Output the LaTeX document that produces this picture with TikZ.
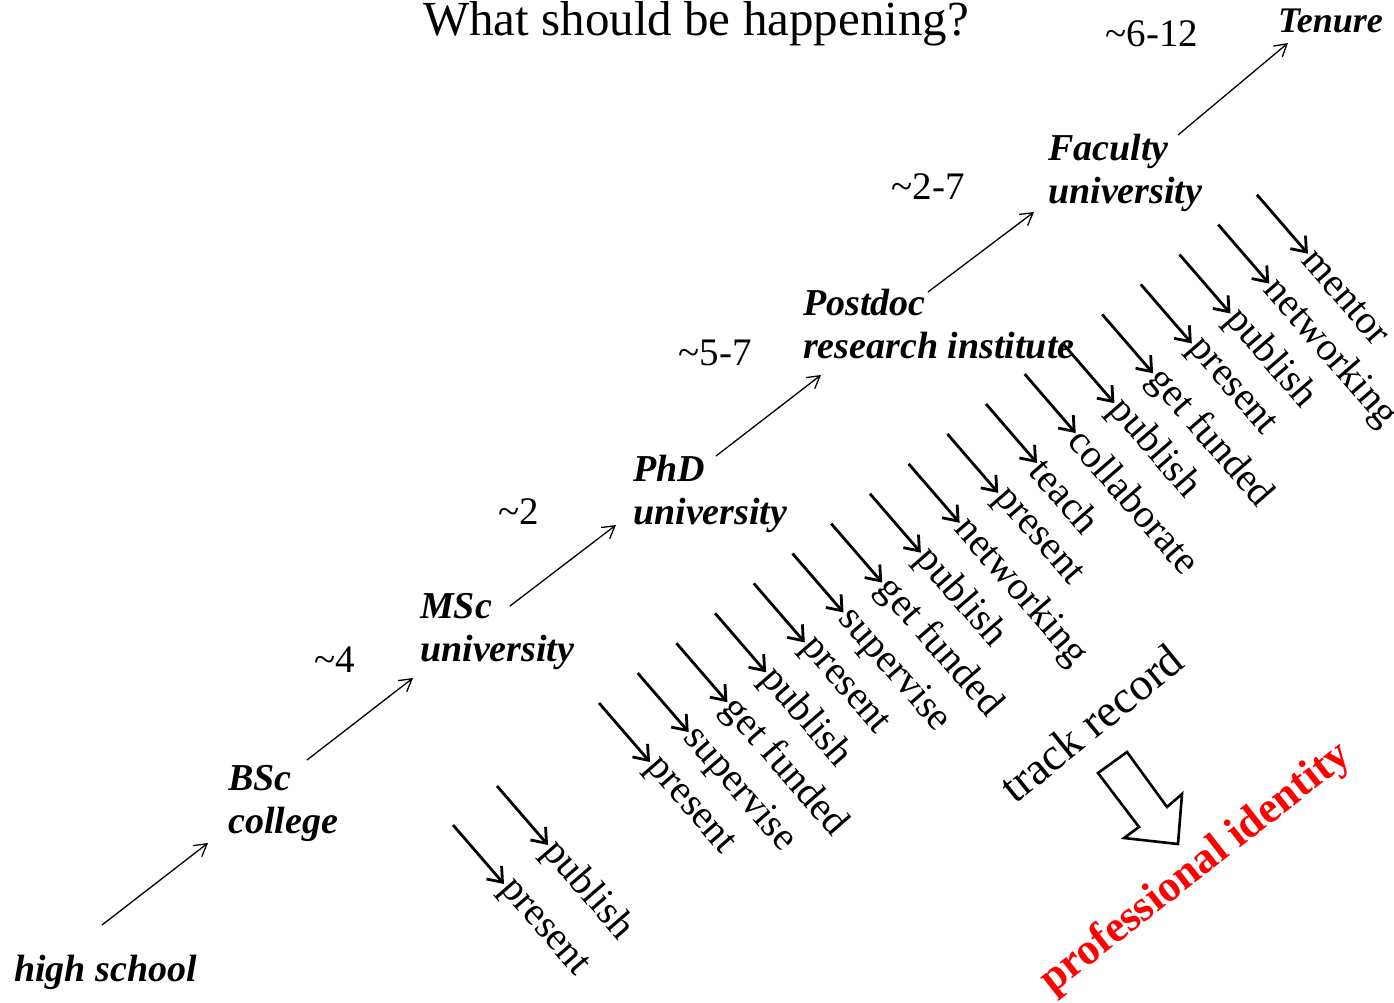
\documentclass[tikz,border=0pt]{standalone}
\usepackage{fontspec}
\setmainfont{Liberation Serif}
\usetikzlibrary{arrows.meta,calc}

\tikzset{
  stage/.style={anchor=north west, inner sep=0pt, align=left,
    font=\fontsize{38}{43}\selectfont\bfseries\itshape},
  years/.style={anchor=base, inner sep=0pt, font=\fontsize{39}{40}\selectfont},
  act/.style={anchor=west, rotate=-49, inner sep=1pt, font=\fontsize{40}{44}\selectfont},
  uparrow/.style={line width=1.3pt, -{Straight Barb[length=12pt,width=14pt]}},
  actarrow/.style={line width=2.8pt, -{Straight Barb[length=13pt,width=20pt]}},
}

\begin{document}
\begin{tikzpicture}[x=1pt,y=-1pt]
  \useasboundingbox (0,0) rectangle (1394,1003);

  % title
  \node[anchor=base, inner sep=0pt, font=\fontsize{49}{52}\selectfont] (title) at (696,36) {What should be happening?};

  % career stages
  \node[stage] (hs) at (14,955) {high school};
  \node[stage] (bsc) at (228,765) {BSc\\college};
  \node[stage] (msc) at (420,593) {MSc\\university};
  \node[stage] (phd) at (633,455) {PhD\\university};
  \node[stage] (postdoc) at (803,289) {Postdoc\\research institute};
  \node[stage] (faculty) at (1048,134) {Faculty\\university};
  \node[stage, font=\fontsize{36}{40}\selectfont\bfseries\itshape] (tenure) at (1278,9) {Tenure};

  % years per stage
  \node[years] (y1) at (335,672) {\textasciitilde4};
  \node[years] (y2) at (519,524) {\textasciitilde2};
  \node[years] (y3) at (715,365) {\textasciitilde5-7};
  \node[years] (y4) at (928,200) {\textasciitilde2-7};
  \node[years] (y5) at (1152,47) {\textasciitilde6-12};

  % steps up
  \foreach \sx/\sy/\ex/\ey [count=\k] in {102/925/208/843, 307/760/413/678,
      510/606/616/525, 716/456/821/375, 928/292/1034/212, 1178/135/1288/43} {
    \coordinate (up\k a) at (\sx,\sy);
    \coordinate (up\k b) at (\ex,\ey);
    \draw[uparrow] (up\k a) -- (up\k b);
  }

  % activities during MSc
  \coordinate (m0) at (453,825);
  \coordinate (m1) at (497,786);
  \node[act] (mt0) at ($(m0)+(51,59)$) {present};
  \node[act] (mt1) at ($(m1)+(51,59)$) {publish};
  \draw[actarrow] (m0) -- (mt0.west);
  \draw[actarrow] (m1) -- (mt1.west);

  % activities PhD -> faculty
  \foreach \lbl [count=\i from 0] in {present, supervise, get funded, publish,
      present, supervise, get funded, publish, networking, present, teach,
      collaborate, publish, get funded, present, publish, networking, mentor} {
    \coordinate (s\i) at ({599+38.7*\i},{703-29.9*\i});
    \node[act] (t\i) at ($(s\i)+(51,59)$) {\lbl};
    \draw[actarrow] (s\i) -- (t\i.west);
  }

  % outcome
  \node[anchor=base west, rotate=39, inner sep=0pt, font=\fontsize{46}{48}\selectfont] (track) at (1015,805) {track record};
  \draw[line width=2.6pt, line join=miter] (1127,752) -- (1098,773) -- (1139,827) -- (1124,838)
    -- (1178,844) -- (1182,794) -- (1167,807) -- cycle;
  \node[anchor=base west, rotate=38, inner sep=0pt, text=red, font=\fontsize{44}{46}\selectfont\bfseries] (ident) at (1052,995) {professional identity};
\end{tikzpicture}
\end{document}
